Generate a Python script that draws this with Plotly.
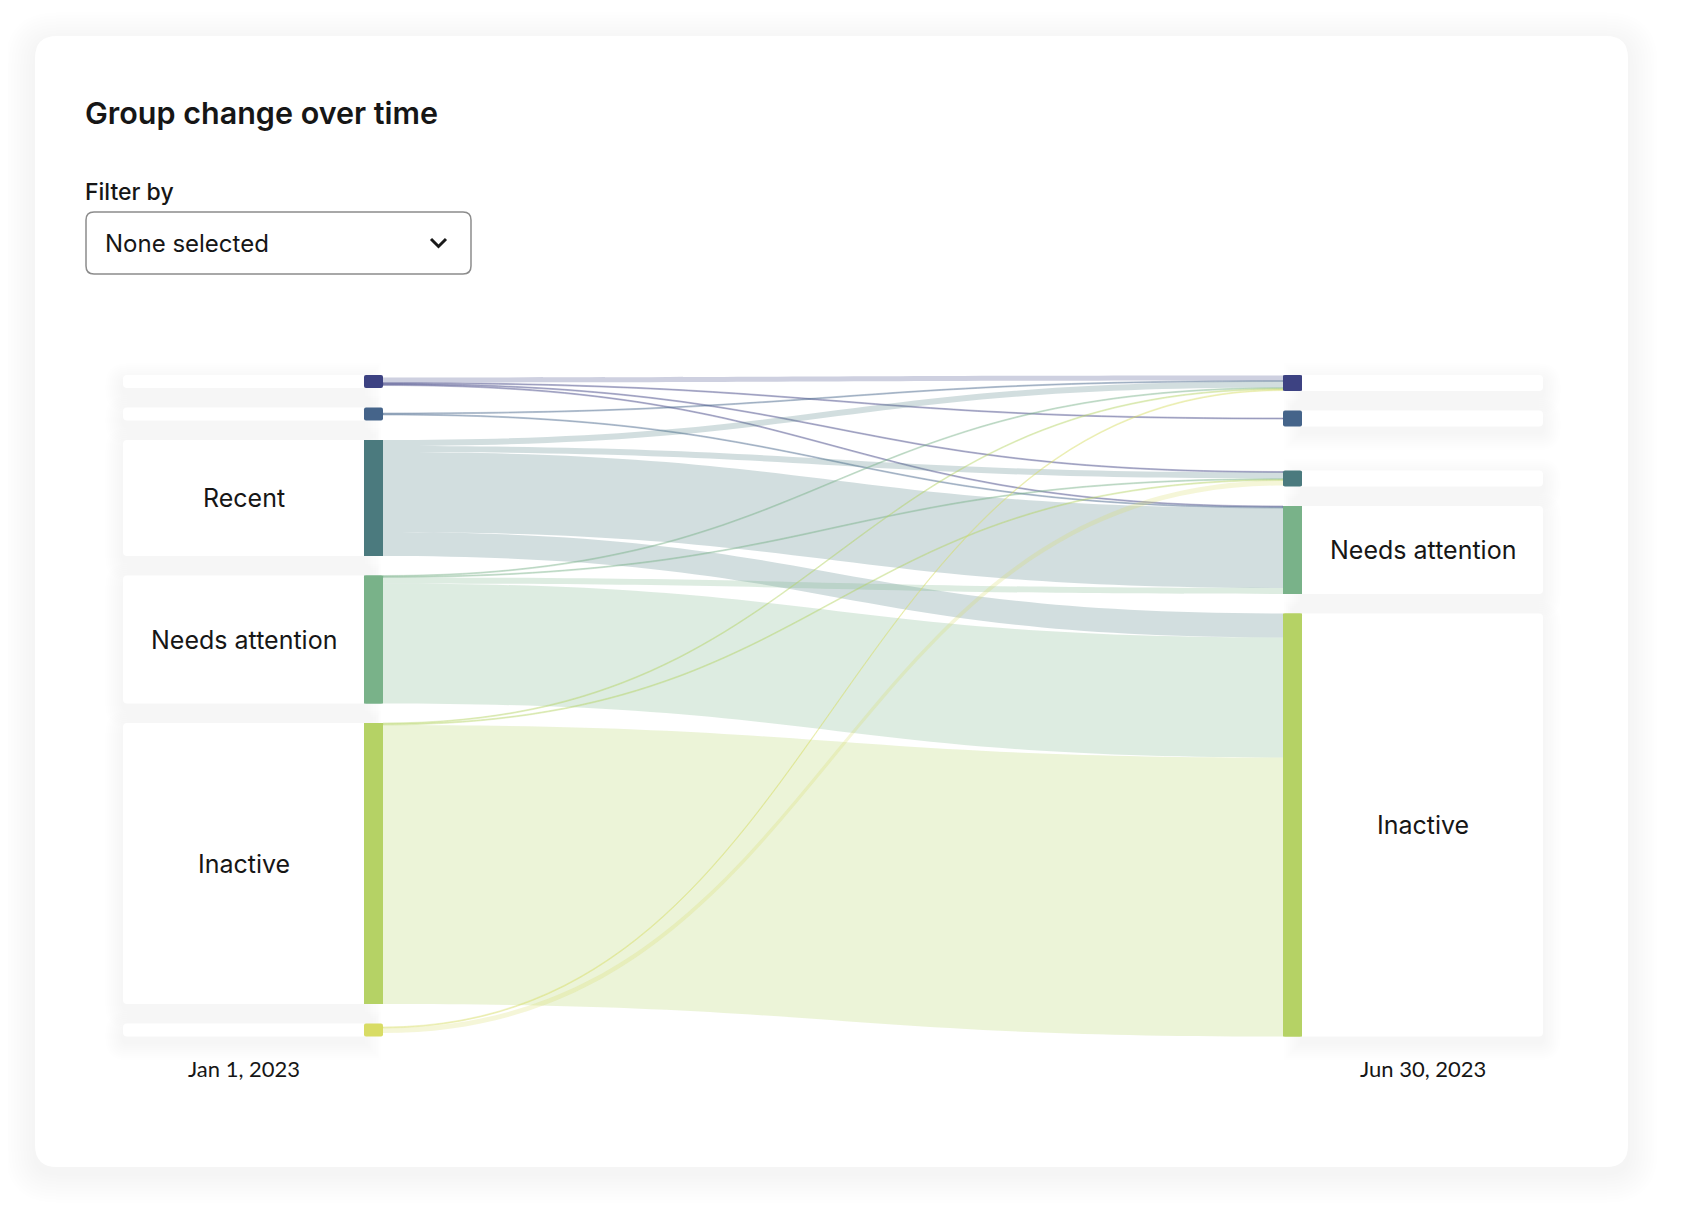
import plotly.graph_objects as go

# ---------------- data ----------------
left_labels = ["", "", "Recent", "Needs attention", "Inactive", ""]
right_labels = ["", "", "", "Needs attention", "Inactive"]
left_colors = ["#3d4282", "#45648a", "#4b7a7e", "#79b289", "#b5d265", "#d8dc64"]
right_colors = ["#3d4282", "#45648a", "#4b7a7e", "#79b289", "#b5d265"]
period_labels = ["Jan 1, 2023", "Jun 30, 2023"]

# flows: index into left groups -> index into right groups
flow_from = [0, 0, 0, 0, 1, 1, 2, 2, 2, 2, 3, 3, 3, 3, 4, 4, 4, 5, 5]
flow_to = [0, 1, 2, 3, 0, 3, 0, 2, 3, 4, 0, 2, 3, 4, 0, 2, 4, 0, 2]
flow_size = [5, 1, 1, 1, 1, 1, 6, 6, 80, 24, 1, 1, 6, 120, 1, 1, 279, 1, 5]

title_text = "Group change over time"
filter_label = "Filter by"
filter_value = "None selected"

# ---------------- page geometry (page pixels) ----------------
PAGE_OFF = 8
FIG_W, FIG_H = 1667, 1206


def fx(p):
    return (p - PAGE_OFF) / FIG_W


def fy(p):
    return 1 - (p - PAGE_OFF) / FIG_H


CARD = (35, 36, 1628, 1167)
BAR_L = (364, 383)
BAR_R = (1283, 1302)
BOX_L = (123, 364)
BOX_R = (1302, 1543)
TOP = 375
GAP = 19.5
MIN_L = 13
MIN_R = 16
FONT = "Inter, Roboto, sans-serif"
DATE_FONT = "Lato, Inter, sans-serif"
INK = "#161616"

nL, nR = len(left_labels), len(right_labels)
left_val = [sum(v for s, v in zip(flow_from, flow_size) if s == i) for i in range(nL)]
right_val = [sum(v for t, v in zip(flow_to, flow_size) if t == j) for j in range(nR)]
total = sum(flow_size)

left_h = [max(v, MIN_L) for v in left_val]
left_top = []
y = TOP
for h in left_h:
    left_top.append(y)
    y += h + GAP
BOTTOM = left_top[-1] + left_h[-1]
H = BOTTOM - TOP

right_h = [max(v, MIN_R) for v in right_val]
right_top = [0] * nR
y = TOP
for j in range(2):
    right_top[j] = y
    y += right_h[j] + GAP
y = BOTTOM
for j in range(nR - 1, 1, -1):
    y -= right_h[j]
    right_top[j] = y
    y -= GAP

W = BAR_R[1] - BAR_L[0]
thick = BAR_L[1] - BAR_L[0]
pad = (H - total) / (nL - 1)  # one value unit == one pixel

node_x = [thick / 2 / W] * nL + [1 - thick / 2 / W] * nR
node_y = [(t + h / 2 - TOP) / H for t, h in zip(left_top, left_h)] + \
         [(t + h / 2 - TOP) / H for t, h in zip(right_top, right_h)]


def rgba(hexc, a):
    hexc = hexc.lstrip("#")
    r, g, b = int(hexc[0:2], 16), int(hexc[2:4], 16), int(hexc[4:6], 16)
    return f"rgba({r},{g},{b},{a})"


link_colors = [rgba(left_colors[s], 0.32 if v <= 1 else 0.25) for s, v in zip(flow_from, flow_size)]

fig = go.Figure(go.Sankey(
    arrangement="fixed",
    domain=dict(x=[fx(BAR_L[0]), fx(BAR_R[1])], y=[fy(BOTTOM), fy(TOP)]),
    node=dict(
        label=[""] * (nL + nR),
        color=left_colors + right_colors,
        thickness=thick,
        pad=pad,
        line=dict(width=0),
        x=node_x,
        y=node_y,
        hoverinfo="none",
    ),
    link=dict(
        source=flow_from,
        target=[nL + t for t in flow_to],
        value=flow_size,
        color=link_colors,
        hoverinfo="none",
    ),
))


# ---------------- decorations ----------------
def rrect(x0, y0, x1, y1, r, corners=(True, True, True, True)):
    def P(x, yy):
        return f"{fx(x):.6f},{fy(yy):.6f}"
    tl, tr, br, bl = [r if c else 0 for c in corners]
    return (f"M{P(x0 + tl, y0)} L{P(x1 - tr, y0)} Q{P(x1, y0)} {P(x1, y0 + tr)} "
            f"L{P(x1, y1 - br)} Q{P(x1, y1)} {P(x1 - br, y1)} "
            f"L{P(x0 + bl, y1)} Q{P(x0, y1)} {P(x0, y1 - bl)} "
            f"L{P(x0, y0 + tl)} Q{P(x0, y0)} {P(x0 + tl, y0)} Z")


shapes = []


def add_path(path, fill, line_color=None, line_width=0):
    d = dict(type="path", path=path, xref="paper", yref="paper", layer="below",
             fillcolor=fill, line=dict(width=line_width, color=line_color or "rgba(0,0,0,0)"))
    shapes.append(d)


def add_shadow(x0, y0, x1, y1, r, spread, steps, alpha, dy, corners=(True, True, True, True)):
    for k in range(steps, 0, -1):
        e = spread * k / steps
        add_path(rrect(x0 - e, y0 - e + dy, x1 + e, y1 + e + dy, r + e, corners), f"rgba(0,0,0,{alpha})")


# card
add_shadow(*CARD, 22, 30, 10, 0.005, 6)
add_path(rrect(*CARD, 22), "#ffffff")

# dropdown
add_path(rrect(86, 212, 471, 274, 8), "#ffffff", "#8c8c8c", 1.5)
shapes.append(dict(type="path", xref="paper", yref="paper", layer="below",
                   path=f"M{fx(431):.6f},{fy(239):.6f} L{fx(438.5):.6f},{fy(246.5):.6f} L{fx(446):.6f},{fy(239):.6f}",
                   line=dict(color="#1a1a1a", width=3)))

# label boxes with shadows
boxes = []
for i in range(nL):
    boxes.append((BOX_L[0], left_top[i], BOX_L[1], left_top[i] + left_h[i], (True, False, False, True)))
for j in range(nR):
    boxes.append((BOX_R[0], right_top[j], BOX_R[1], right_top[j] + right_h[j], (False, True, True, False)))
for (x0, y0, x1, y1, c) in boxes:
    add_shadow(x0, y0, x1, y1, 4, 18, 9, 0.0055, 6, c)
for (x0, y0, x1, y1, c) in boxes:
    add_path(rrect(x0, y0, x1, y1, 4, c), "#ffffff")

# node bars (shown at a minimum visible height)
for i in range(nL):
    add_path(rrect(BAR_L[0], left_top[i], BAR_L[1], left_top[i] + left_h[i], 2), left_colors[i])
for j in range(nR):
    add_path(rrect(BAR_R[0], right_top[j], BAR_R[1], right_top[j] + right_h[j], 2), right_colors[j])

# ---------------- text ----------------
ann = []


def text(x, y, s, size, xanchor="left", family=FONT, weight=400, color=INK):
    ann.append(dict(x=fx(x), y=fy(y), xref="paper", yref="paper", text=s, showarrow=False,
                    xanchor=xanchor, yanchor="middle",
                    font=dict(family=family, size=size, color=color, weight=weight)))


text(83, 112, title_text, 30.5, weight=600)
text(83, 192, filter_label, 23, weight=500)
text(103, 243, filter_value, 24)

for i in range(nL):
    if left_labels[i]:
        text((BOX_L[0] + BOX_L[1]) / 2, left_top[i] + left_h[i] / 2, left_labels[i], 25, "center")
for j in range(nR):
    if right_labels[j]:
        text((BOX_R[0] + BOX_R[1]) / 2, right_top[j] + right_h[j] / 2, right_labels[j], 25, "center")

text((BOX_L[0] + BOX_L[1]) / 2, 1068, period_labels[0], 22, "center", DATE_FONT)
text((BOX_R[0] + BOX_R[1]) / 2, 1068, period_labels[1], 22, "center", DATE_FONT)

fig.update_layout(
    width=FIG_W, height=FIG_H, autosize=False,
    margin=dict(l=0, r=0, t=0, b=0),
    paper_bgcolor="#ffffff", plot_bgcolor="#ffffff",
    shapes=shapes, annotations=ann,
    showlegend=False,
)

fig.write_html("out.html", config={"displayModeBar": False})
